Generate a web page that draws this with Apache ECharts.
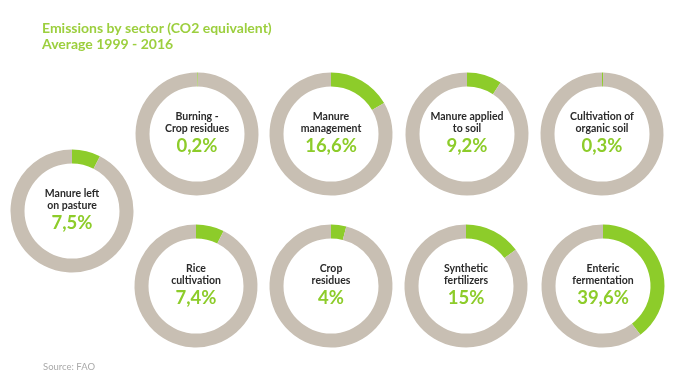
<!DOCTYPE html>
<html>
<head>
<meta charset="utf-8">
<script src="https://cdn.jsdelivr.net/npm/echarts@6/dist/echarts.min.js"></script>
<style>
html,body{margin:0;padding:0;background:#fff;}
#c{width:690px;height:388px;}
</style>
</head>
<body>
<div id="c"></div>
<script>
var categories = ['Burning -\nCrop residues', 'Manure\nmanagement', 'Manure applied\nto soil', 'Cultivation of\norganic soil', 'Manure left\non pasture', 'Rice\ncultivation', 'Crop\nresidues', 'Synthetic\nfertilizers', 'Enteric\nfermentation'];
var shares = [0.2, 16.6, 9.2, 0.3, 7.5, 7.4, 4, 15, 39.6];
var titleLines = ['Emissions by sector (CO2 equivalent)', 'Average 1999 - 2016'];
var sourceText = 'Source: FAO';

var centers = [[197,134],[331,134],[467,134],[602,134],[72,211],[196,286],[331,286],[466,286],[603,286]];
var GREEN = '#8dcc2a', GREY = '#c8bfb3';
var FONT = 'Lato';

function fmt(v){ return String(v).replace('.', ',') + '%'; }

var series = categories.map(function(name, i){
  var lines = name.split('\n').map(function(l){ return '{n|' + l + '}'; }).join('\n');
  return {
    type: 'pie',
    center: centers[i],
    radius: [47.5, 61.5],
    startAngle: 90,
    clockwise: true,
    silent: true,
    animation: false,
    avoidLabelOverlap: false,
    labelLine: {show: false},
    data: [
      {value: shares[i], name: name, itemStyle: {color: GREEN},
       label: {show: true, position: 'center', formatter: lines + '\n{v|' + fmt(shares[i]) + '}',
         rich: {
           n: {fontFamily: FONT, fontSize: 10.5, fontWeight: 'bold', color: '#2a2a2a', lineHeight: 12, align: 'center'},
           v: {fontFamily: FONT, fontSize: 18.5, fontWeight: 'bold', color: GREEN, lineHeight: 22, align: 'center'}
         }}},
      {value: 100 - shares[i], name: 'rest', itemStyle: {color: GREY}, label: {show: false}}
    ]
  };
});

var chart = echarts.init(document.getElementById('c'), null, {renderer: 'canvas'});
chart.setOption({
  backgroundColor: '#fff',
  title: [
    {text: titleLines.join('\n'), left: 37, top: 15,
     textStyle: {fontFamily: FONT, fontSize: 14, fontWeight: 'bold', color: '#9ccf3e', lineHeight: 16}},
    {text: sourceText, left: 38, top: 357,
     textStyle: {fontFamily: FONT, fontSize: 9.5, fontWeight: 'normal', color: '#aaaaaa'}}
  ],
  series: series
});
</script>
</body>
</html>
